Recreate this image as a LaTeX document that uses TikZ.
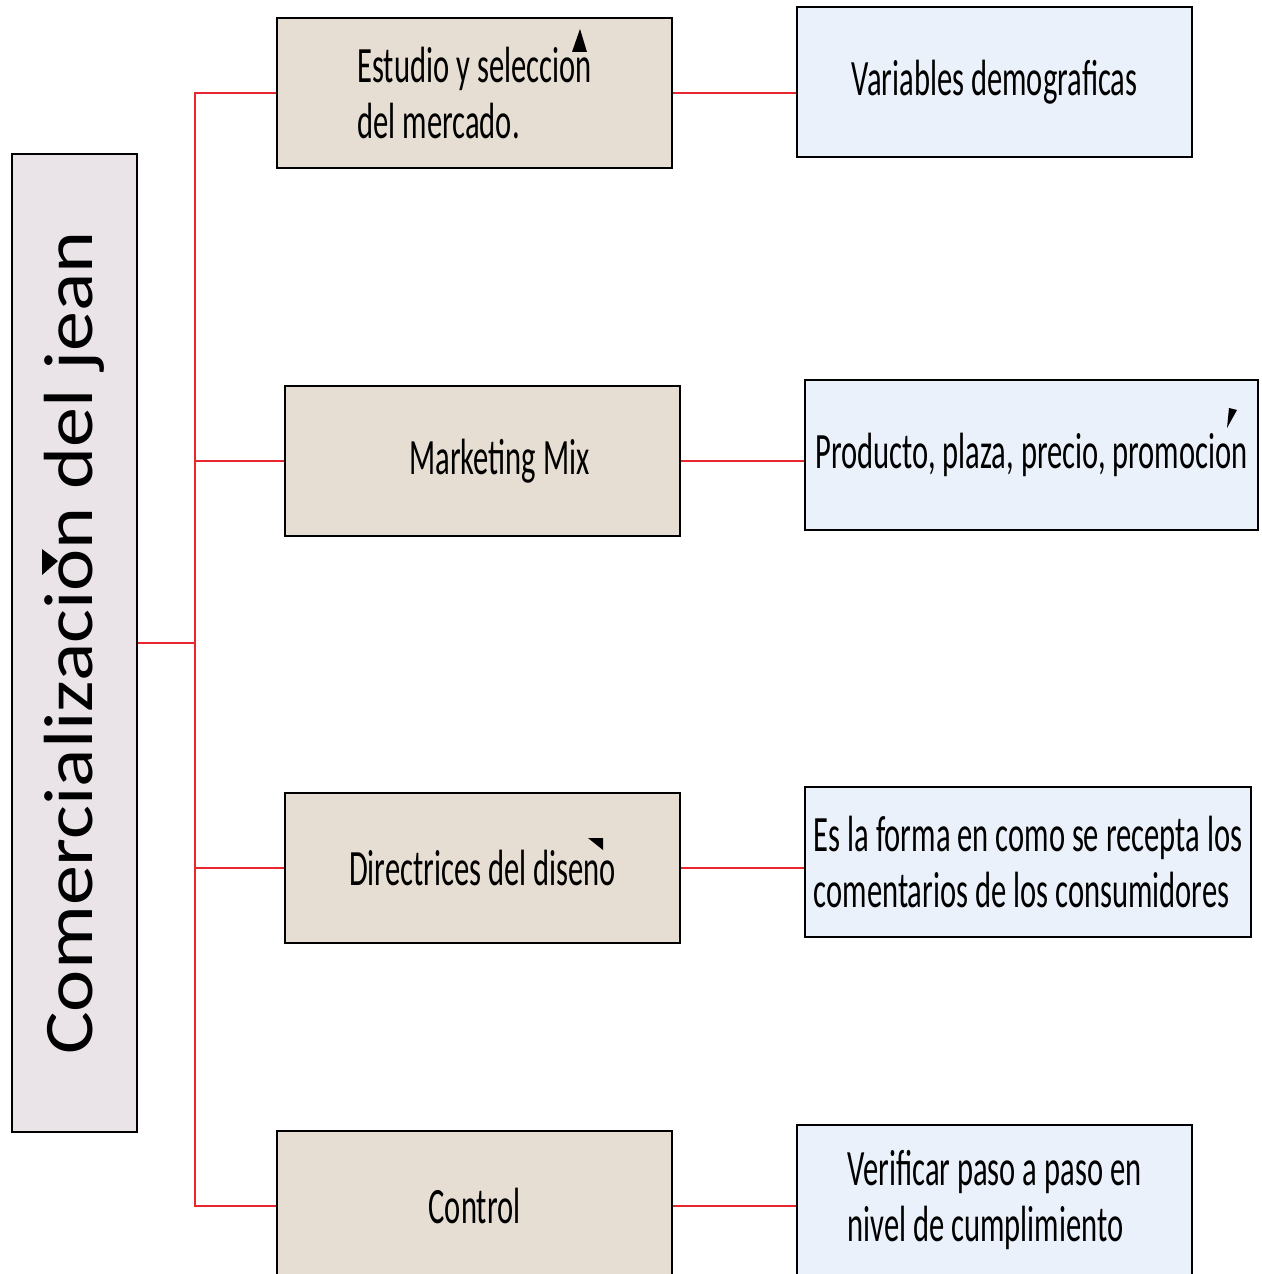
\documentclass[tikz,border=0pt]{standalone}
\usepackage{fontspec}
\setmainfont{Carlito}
\newfontfamily\boxfont{Carlito}[FakeStretch=0.6]
\newfontfamily\rootfont{Carlito}[FakeStretch=1.15]
\definecolor{rootfill}{HTML}{EAE4E8}
\definecolor{topicfill}{HTML}{E6DDD3}
\definecolor{detailfill}{HTML}{EAF1FA}
\definecolor{linkred}{HTML}{E8262D}
\tikzset{
 rootbox/.style={draw=black, line width=1.1pt, fill=rootfill, inner sep=0pt, minimum width=2.5cm, minimum height=19.56cm, font=\rootfont\fontsize{39.6pt}{42pt}\selectfont},
 topic/.style={draw=black, line width=1.1pt, fill=topicfill, minimum width=7.9cm, minimum height=3cm, align=left, font=\boxfont\fontsize{29pt}{32.3pt}\selectfont},
 detail/.style={topic, fill=detailfill},
 link/.style={draw=linkred, line width=1pt},
 accentmark/.style={fill=black}
}
\begin{document}
\begin{tikzpicture}[x=0.02cm, y=-0.02cm]
\useasboundingbox (0,0) rectangle (1261,1274);
\clip (0,0) rectangle (1261,1274);
\fill[white] (0,0) rectangle (1261,1274);
\node[rootbox] (root) at (74.5,643) {\rotatebox{90}{Comercializacion del jean}};
\node[topic] (estudio) at (474.5,93) {Estudio y seleccion\\del mercado.};
\node[topic] (marketing) at (482.5,461) {\hspace*{0.68cm}Marketing Mix};
\node[topic] (directrices) at (482.5,868) {Directrices del diseno};
\node[topic] (control) at (474.5,1206) {Control};
\node[detail] (variables) at (994.5,82) {Variables demograficas};
\node[detail, minimum width=9.06cm] (producto) at (1031.5,455) {Producto, plaza, precio, promocion};
\node[detail, minimum width=8.92cm] (recepta) at (1028,862) {Es la forma en como se recepta los\\comentarios de los consumidores};
\node[detail] (verificar) at (994.5,1200) {Verificar paso a paso en\\nivel de cumplimiento};
\coordinate (trunk) at (195,642);
\draw[link] (root.east) -- (root.east -| trunk);
\draw[link] (estudio.west) -| (control.west -| trunk) -- (control.west);
\draw[link] (marketing.west) -- (marketing.west -| trunk);
\draw[link] (directrices.west) -- (directrices.west -| trunk);
\draw[link] (estudio.east) -- (estudio.east -| variables.west);
\draw[link] (marketing.east) -- (marketing.east -| producto.west);
\draw[link] (directrices.east) -- (directrices.east -| recepta.west);
\draw[link] (control.east) -- (control.east -| verificar.west);
\fill[accentmark] (572,52) -- (580,29) -- (587,52) -- cycle;
\fill[accentmark] (1229,408) -- (1237,410) -- (1227,428) -- cycle;
\fill[accentmark] (588,838) -- (603,838) -- (603,850) -- cycle;
\fill[accentmark] (42,549) -- (58,561) -- (42,575) -- cycle;
\end{tikzpicture}
\end{document}
